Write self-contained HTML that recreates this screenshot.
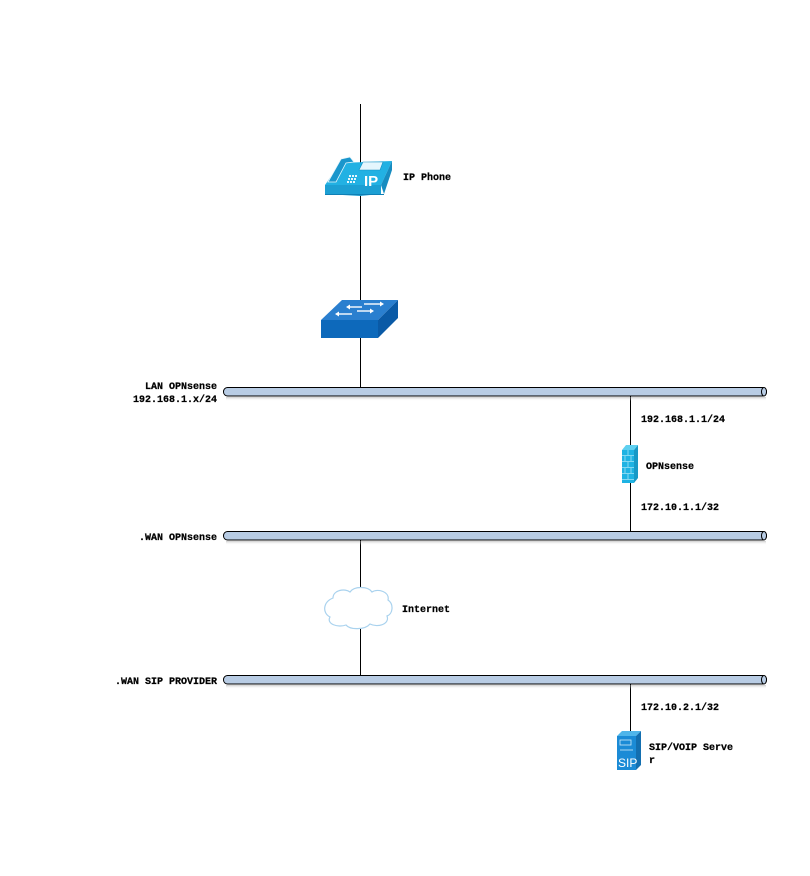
<!DOCTYPE html>
<html><head><meta charset="utf-8"><style>
html,body{margin:0;padding:0;background:#fff;}
svg{display:block;}
text{font-family:"Liberation Mono",monospace;font-weight:bold;font-size:10px;fill:#000;stroke:#000;stroke-width:0.25;}
</style></head><body>
<svg width="810" height="876" viewBox="0 0 810 876" xmlns="http://www.w3.org/2000/svg">
<defs>
<linearGradient id="sh" x1="0" y1="0" x2="0" y2="1"><stop offset="0" stop-color="#999" stop-opacity="0.5"/><stop offset="1" stop-color="#fff" stop-opacity="0"/></linearGradient>
</defs>
<!-- vertical connectors -->
<line x1="360.5" y1="104" x2="360.5" y2="388" stroke="#000" stroke-width="1"/>
<line x1="630.5" y1="396" x2="630.5" y2="532" stroke="#000" stroke-width="1"/>
<line x1="360.5" y1="540" x2="360.5" y2="676" stroke="#000" stroke-width="1"/>
<line x1="630.5" y1="684" x2="630.5" y2="735" stroke="#000" stroke-width="1"/>

<!-- buses -->
<g>
<rect x="226" y="397" width="540" height="4" fill="url(#sh)"/>
<rect x="223.5" y="387.5" width="543" height="8.5" rx="4" ry="4" fill="#b8cce4" stroke="#000" stroke-width="1"/>
<ellipse cx="764" cy="391.75" rx="2.5" ry="4.25" fill="#b8cce4" stroke="#000" stroke-width="1"/>
</g>
<g>
<rect x="226" y="541" width="540" height="4" fill="url(#sh)"/>
<rect x="223.5" y="531.5" width="543" height="8.5" rx="4" ry="4" fill="#b8cce4" stroke="#000" stroke-width="1"/>
<ellipse cx="764" cy="535.75" rx="2.5" ry="4.25" fill="#b8cce4" stroke="#000" stroke-width="1"/>
</g>
<g>
<rect x="226" y="685" width="540" height="4" fill="url(#sh)"/>
<rect x="223.5" y="675.5" width="543" height="8.5" rx="4" ry="4" fill="#b8cce4" stroke="#000" stroke-width="1"/>
<ellipse cx="764" cy="679.75" rx="2.5" ry="4.25" fill="#b8cce4" stroke="#000" stroke-width="1"/>
</g>

<!-- IP phone -->
<g>
<polygon points="325,185 340,163 392,161 381,185" fill="#22b1e3"/>
<polygon points="325,185 381,185 381,194 360,196 325,194" fill="#1c9fd3"/>
<polygon points="381,185 392,161 392,170 384,194" fill="#178cc0"/>
<path d="M328,182 L341,159 L350,157 L354,162 L346,163 L336,182 Z" fill="#1a96cc" stroke="#e8f7fd" stroke-width="0.8"/>
<polygon points="359,170 363,162 383,162 380,170" fill="#e4f6fd" stroke="#138fc4" stroke-width="0.6"/>
<g fill="#e4f6fd">
<rect x="349" y="175" width="2" height="2"/><rect x="352" y="175" width="2" height="2"/><rect x="355" y="175" width="2" height="2"/>
<rect x="348" y="178" width="2" height="2"/><rect x="351" y="178" width="2" height="2"/><rect x="354" y="178" width="2" height="2"/>
<rect x="347" y="181" width="2" height="2"/><rect x="350" y="181" width="2" height="2"/><rect x="353" y="181" width="2" height="2"/>
</g>
<text x="364" y="186" style="font-family:'Liberation Sans',sans-serif;font-size:15px;font-weight:bold;fill:#fff;stroke:none">IP</text>
<line x1="325" y1="194.5" x2="384" y2="194.5" stroke="#0f7fb5" stroke-width="1"/>
</g>
<text x="403" y="180">IP Phone</text>

<!-- switch -->
<g>
<polygon points="321,320 342,300 398,300 378,320" fill="#2a7fcf"/>
<polygon points="321,320 378,320 378,338 321,338" fill="#0d69bb"/>
<polygon points="378,320 398,300 398,318 378,338" fill="#0a5aa6"/>
<g stroke="#fff" stroke-width="1.4" fill="#fff">
<line x1="348" y1="307" x2="362" y2="307"/><polygon points="346,307 350,304.5 350,309.5" stroke="none"/>
<line x1="364" y1="304" x2="380" y2="304"/><polygon points="384,304 380,301.5 380,306.5" stroke="none"/>
<line x1="338" y1="314" x2="352" y2="314"/><polygon points="335,314 339,311.5 339,316.5" stroke="none"/>
<line x1="357" y1="311" x2="370" y2="311"/><polygon points="374,311 370,308.5 370,313.5" stroke="none"/>
</g>
</g>

<!-- firewall -->
<g>
<polygon points="622,450 626,445 638,445 634,450" fill="#5fd0f0"/>
<rect x="622" y="450" width="12" height="33" fill="#1fb3e3"/>
<polygon points="634,450 638,445 638,478 634,483" fill="#1899c6"/>
<g stroke="#9fe3f7" stroke-width="0.8">
<line x1="622" y1="455.5" x2="634" y2="455.5"/><line x1="622" y1="461.5" x2="634" y2="461.5"/>
<line x1="622" y1="467.5" x2="634" y2="467.5"/><line x1="622" y1="473.5" x2="634" y2="473.5"/>
<line x1="622" y1="479.5" x2="634" y2="479.5"/>
<line x1="628" y1="450" x2="628" y2="455"/><line x1="625" y1="456" x2="625" y2="461"/><line x1="631" y1="456" x2="631" y2="461"/>
<line x1="628" y1="462" x2="628" y2="467"/><line x1="625" y1="468" x2="625" y2="473"/><line x1="631" y1="468" x2="631" y2="473"/>
<line x1="628" y1="474" x2="628" y2="479"/>
</g>
</g>

<!-- cloud -->
<path d="M333,598 C333,590 345,588 350,592 C354,586 368,586 372,592 C378,588 390,592 388,600 C394,604 393,614 387,616 C390,624 378,628 370,624 C365,630 350,630 346,625 C338,628 326,624 330,617 C322,613 323,602 333,598 Z" fill="#fff" stroke="#a9d2ee" stroke-width="1.2"/>

<!-- SIP server -->
<g>
<polygon points="617,736 622,731 641,731 636,736" fill="#4fb5ea"/>
<rect x="617" y="736" width="19" height="34" fill="#1b8bd6"/>
<polygon points="636,736 641,731 641,765 636,770" fill="#136fb0"/>
<rect x="620" y="740" width="11" height="5" fill="none" stroke="#cfeafb" stroke-width="0.8"/>
<line x1="620" y1="750" x2="633" y2="750" stroke="#cfeafb" stroke-width="0.8"/>
<text x="618" y="767" style="font-family:'Liberation Sans',sans-serif;font-size:12px;font-weight:normal;fill:#fff;stroke:none">SIP</text>
</g>

<!-- labels -->
<text x="217" y="389" text-anchor="end">LAN OPNsense</text>
<text x="217" y="402" text-anchor="end">192.168.1.x/24</text>
<text x="641" y="422">192.168.1.1/24</text>
<text x="646" y="469">OPNsense</text>
<text x="641" y="510">172.10.1.1/32</text>
<text x="217" y="540" text-anchor="end">.WAN OPNsense</text>
<text x="402" y="612">Internet</text>
<text x="217" y="684" text-anchor="end">.WAN SIP PROVIDER</text>
<text x="641" y="710">172.10.2.1/32</text>
<text x="649" y="750">SIP/VOIP Serve</text>
<text x="649" y="763">r</text>
</svg>
</body></html>
